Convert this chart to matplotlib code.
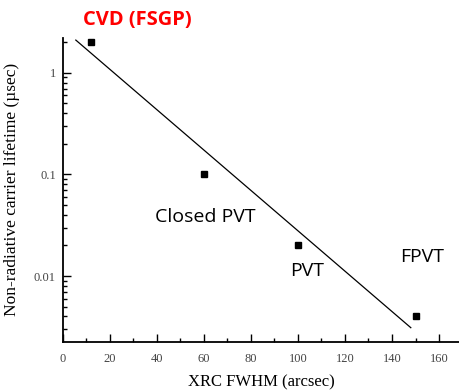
import numpy as np
import matplotlib
matplotlib.use('Agg')
import matplotlib.pyplot as plt

# measured samples: XRC FWHM vs carrier lifetime
fwhm = [12, 60, 100, 150]
lifetime = [2.0, 0.1, 0.02, 0.004]
labels = ['CVD (FSGP)', 'Closed PVT', 'PVT', 'FPVT']
label_x = [31.5, 60.5, 104, 153]
label_y = [3.3, 0.038, 0.0112, 0.0154]
label_color = ['red', 'black', 'black', 'black']
label_weight = ['bold', 'normal', 'normal', 'normal']

# trend line end points
fit_x = [5.5, 148]
fit_y = [2.1, 0.0031]

fig = plt.figure(figsize=(4.59, 3.90), dpi=100)
ax = fig.add_axes([0.137, 0.123, 0.863, 0.78])

ax.plot(fit_x, fit_y, '-', color='black', lw=0.9)
ax.plot(fwhm, lifetime, 's', color='black', ms=4.5)

for t, x, y, c, w in zip(labels, label_x, label_y, label_color, label_weight):
	ax.text(x, y, t, color=c, fontweight=w, fontsize=14.5 if w == 'bold' else 14,
		family='Open Sans', ha='center', va='center')

ax.set_yscale('log')
ax.set_xlim(0, 168.5)
ax.set_ylim(0.00224, 2.21)
ax.set_xticks(np.arange(0, 161, 20))
ax.set_xticks(np.arange(0, 161, 10), minor=True)
ax.set_yticks([0.01, 0.1, 1])
ax.set_yticklabels(['0.01', '0.1', '1'])

for s in ['top', 'right']:
	ax.spines[s].set_visible(False)
for s in ['left', 'bottom']:
	ax.spines[s].set_linewidth(1.3)

ax.tick_params(which='both', direction='in', width=1, labelsize=9, colors='black')
ax.tick_params(which='major', length=6)
ax.tick_params(which='minor', length=3)
for lab in ax.get_xticklabels() + ax.get_yticklabels():
	lab.set_family('Liberation Serif')
	lab.set_color('#444444')
ax.tick_params(axis='x', pad=8)
ax.tick_params(axis='y', pad=5)

ax.set_xlabel('XRC FWHM (arcsec)', family='Liberation Serif', fontsize=12, labelpad=7)
ax.set_ylabel('Non-radiative carrier lifetime (\u00b5sec)', family='Liberation Serif', fontsize=12.5, labelpad=10)

fig.savefig('out.png', dpi=100)
